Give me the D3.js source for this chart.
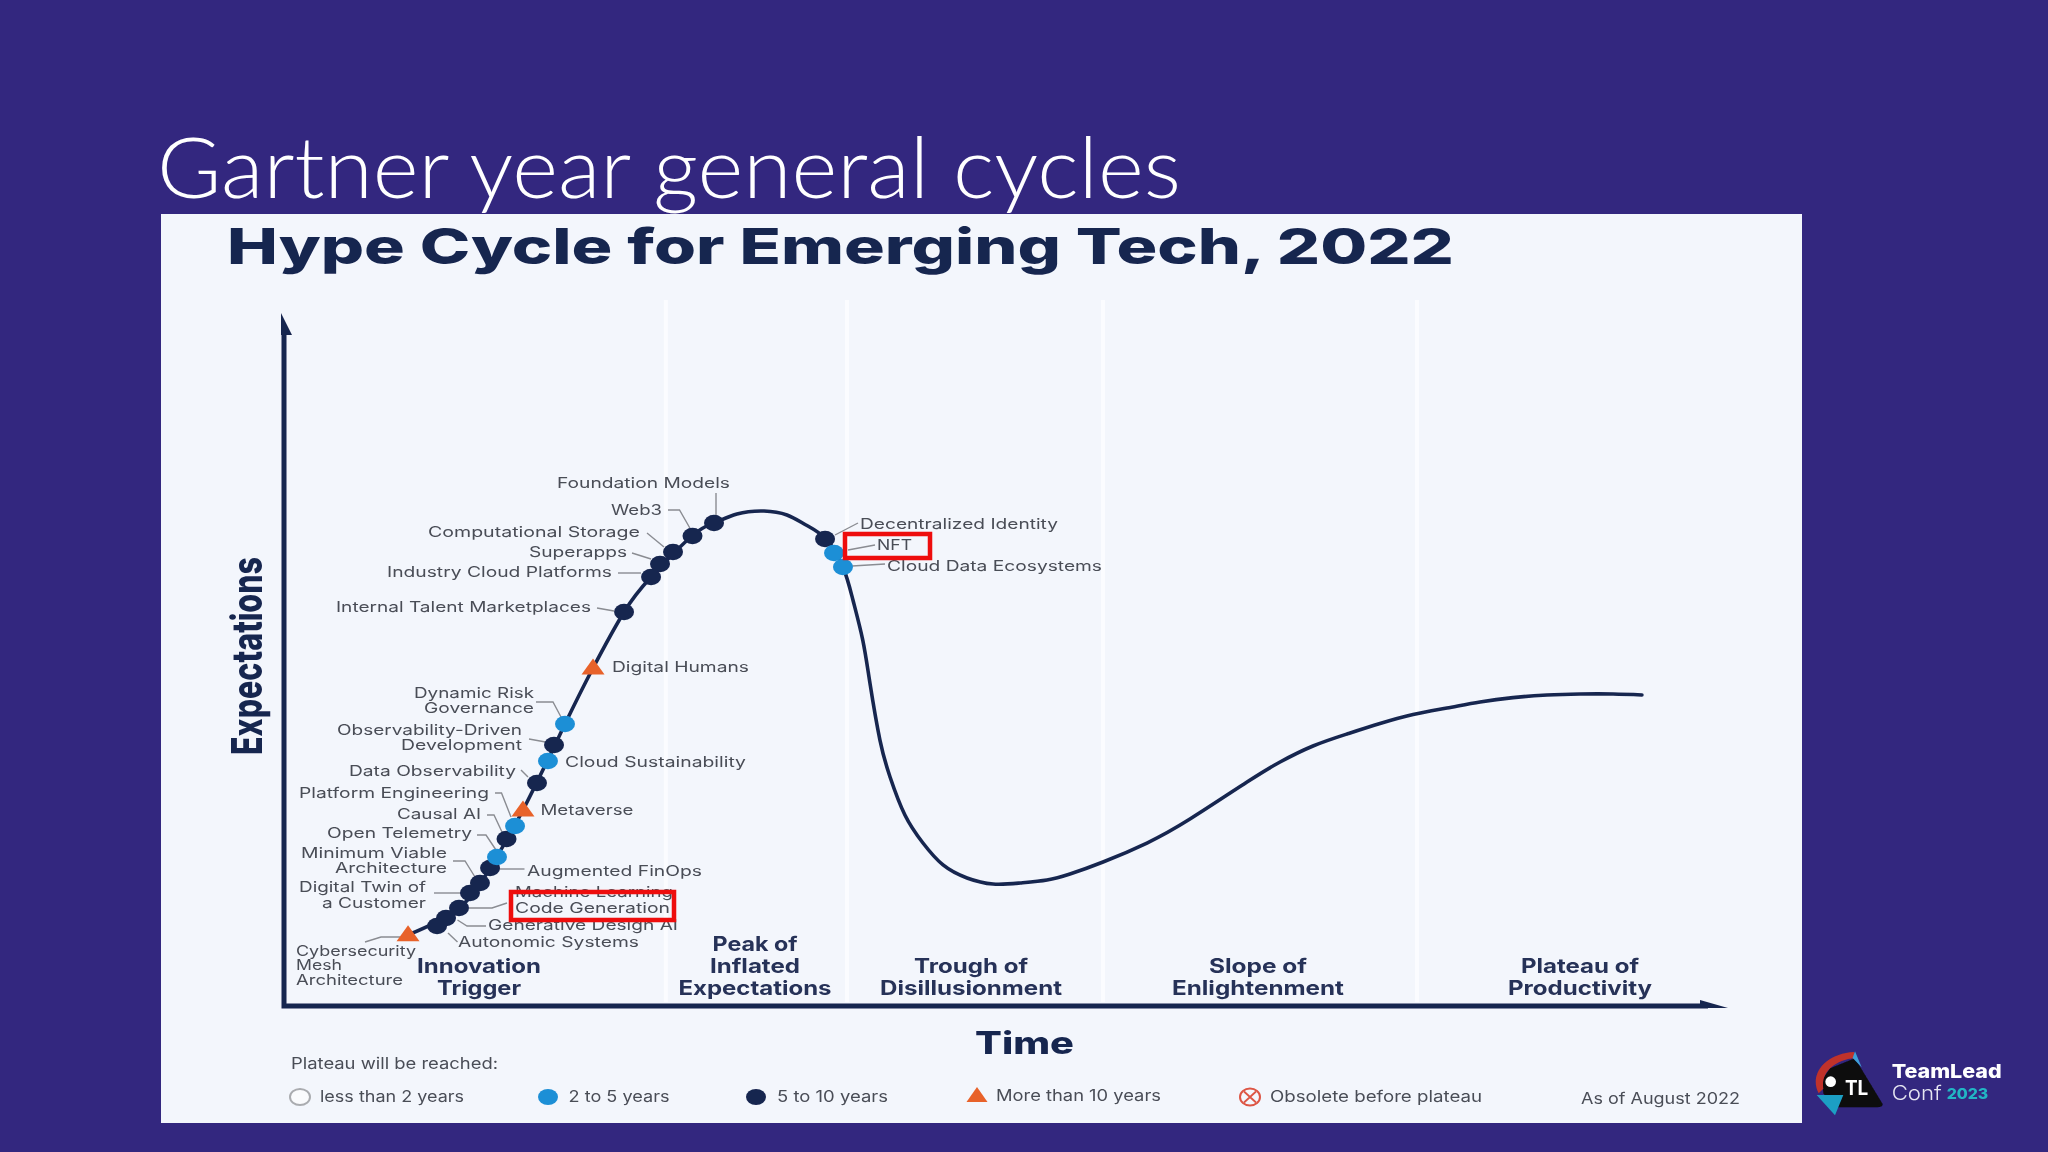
<!DOCTYPE html>
<html><head><meta charset="utf-8">
<script src="https://cdn.jsdelivr.net/npm/d3@7/dist/d3.min.js"></script>
<style>html,body{margin:0;padding:0;background:#33277f;overflow:hidden}svg{display:block}</style>
</head><body><div id="chart"></div>
<script>
// ---------- data (time and expectations on a 0-100 scale) ----------
const slideTitle = "Gartner year general cycles";
const chartTitle = "Hype Cycle for Emerging Tech, 2022";
const curveTime = [8.59,12.12,14.27,16.55,19.46,21.4,23.55,25.42,28.25,29.78,31.37,33.24,34.83,36.15,37.53,38.71,39.4,40.08,40.58,41.27,41.97,43.0,44.25,45.64,47.3,49.1,50.97,52.84,54.43,56.72,59.76,62.74,66.69,68.98,71.26,73.61,75.9,78.19,80.54,82.83,85.11,87.47,89.75,92.04,94.04];
const curveExpect = [10.25,14.14,19.91,28.28,40.69,48.77,56.85,61.9,67.82,69.7,71.0,71.43,70.85,69.41,67.39,63.35,58.59,52.81,46.57,38.38,33.05,27.56,23.52,20.35,18.47,17.6,17.75,18.18,19.05,20.78,23.52,26.98,32.32,35.21,37.52,39.25,40.76,42.06,43.0,43.87,44.5,44.88,45.02,45.02,44.88];
const techNames = ["Cybersecurity Mesh Architecture","Autonomic Systems","Generative Design AI","Machine Learning Code Generation","Digital Twin of a Customer","Minimum Viable Architecture","Augmented FinOps","Open Telemetry","Causal AI","Platform Engineering","Metaverse","Data Observability","Cloud Sustainability","Observability-Driven Development","Dynamic Risk Governance","Digital Humans","Internal Talent Marketplaces","Industry Cloud Platforms","Superapps","Computational Storage","Web3","Foundation Models","Decentralized Identity","NFT","Cloud Data Ecosystems"];
const techTime = [8.59,10.6,11.22,12.12,12.88,13.57,14.27,14.75,15.41,16.0,16.55,17.52,18.28,18.7,19.46,21.4,23.55,25.42,26.04,26.94,28.29,29.78,37.47,38.09,38.71];
const techExpect = [10.25,11.54,12.7,14.14,16.31,17.75,19.91,21.5,24.1,25.97,28.28,32.18,35.35,37.66,40.69,48.77,56.85,61.9,63.78,65.51,67.82,69.7,67.39,65.37,63.35];
const techHorizon = ["gt10","5to10","5to10","5to10","5to10","5to10","5to10","2to5","5to10","2to5","gt10","5to10","2to5","5to10","2to5","gt10","5to10","5to10","5to10","5to10","5to10","5to10","5to10","2to5","2to5"];
const dividerTimes = [26.45,38.99,56.72,78.46];
const phaseNames = [["Innovation","Trigger"],["Peak of","Inflated","Expectations"],["Trough of","Disillusionment"],["Slope of","Enlightenment"],["Plateau of","Productivity"]];
const legendHeading = "Plateau will be reached:";
const legendNames = ["less than 2 years","2 to 5 years","5 to 10 years","More than 10 years","Obsolete before plateau"];
const legendKeys = ["lt2","2to5","5to10","gt10","obsolete"];
const asOfNote = "As of August 2022";

// ---------- layout ----------
const W=2048,H=1152;
const x=d3.scaleLinear().domain([0,100]).range([284,1728]);
const y=d3.scaleLinear().domain([0,100]).range([1006,313]);
const NAVY="#182650",BLUE="#1d8fd6",ORANGE="#e8622a",GREY="#4a4d57",LEAD="#8a8c92",RED="#ee1111";

const svg=d3.select("#chart").append("svg").attr("width",W).attr("height",H).attr("viewBox",[0,0,W,H]);
const defs=svg.append("defs");
defs.append("filter").attr("id","soft").attr("x","-5%").attr("y","-5%").attr("width","110%").attr("height","110%")
  .append("feGaussianBlur").attr("stdDeviation",0.75);
defs.append("filter").attr("id","soft2").append("feGaussianBlur").attr("stdDeviation",0.5);

svg.append("rect").attr("width",W).attr("height",H).attr("fill","#33277f");
svg.append("text").text(slideTitle).attr("x",157).attr("y",198)
  .attr("font-family","Lato").attr("font-weight",300).attr("font-size",84).attr("fill","#fff")
  .attr("textLength",1024).attr("lengthAdjust","spacingAndGlyphs");
svg.append("rect").attr("x",161).attr("y",214).attr("width",1641).attr("height",909).attr("fill","#f3f6fc");

const g=svg.append("g").attr("filter","url(#soft)");
function txt(parent,s,px,py,len,o={}){
  return parent.append("text").text(s).attr("x",px).attr("y",py).attr("dy","0.36em")
    .attr("font-family",o.family||"Inter").attr("font-weight",o.weight||400).attr("font-size",o.size||14.5)
    .attr("fill",o.fill||GREY).attr("text-anchor",o.anchor||"start")
    .attr("textLength",len).attr("lengthAdjust","spacingAndGlyphs");
}

g.append("text").text(chartTitle).attr("x",227).attr("y",264)
  .attr("font-family","Inter").attr("font-weight",800).attr("font-size",49).attr("fill",NAVY)
  .attr("textLength",1227).attr("lengthAdjust","spacingAndGlyphs");

// phase dividers
g.selectAll("line.div").data(dividerTimes).join("line").attr("class","div")
  .attr("x1",d=>x(d)).attr("x2",d=>x(d)).attr("y1",300).attr("y2",1002)
  .attr("stroke","#fbfcff").attr("stroke-width",4);

// axes
const axisLine=d3.line();
g.append("path").attr("d",axisLine([[x(0),y(100)+20],[x(0),y(0)],[x(100)-20,y(0)]]))
  .attr("fill","none").attr("stroke",NAVY).attr("stroke-width",5);
g.append("path").attr("d",axisLine([[x(0)-3,y(100)],[x(0)+8,y(100)+22],[x(0)-3,y(100)+22]])+"Z").attr("fill",NAVY);
g.append("path").attr("d",axisLine([[x(100),y(0)+2],[x(100)-28,y(0)-6],[x(100)-28,y(0)+2]])+"Z").attr("fill",NAVY);

// curve
const curve=d3.line().x(d=>x(d[0])).y(d=>y(d[1])).curve(d3.curveNatural);
g.append("path").datum(curveTime.map((t,i)=>[t,curveExpect[i]])).attr("d",curve)
  .attr("fill","none").attr("stroke",NAVY).attr("stroke-width",3.6).attr("stroke-linecap","round");

// leader lines for the labels
const leaders=[
 [[365,942],[381,937],[400,937]],[[448,933],[457.5,942]],[[457.5,920],[467,926],[486,926]],
 [[469,908],[492,908],[507,903]],[[434,893],[461,893]],[[453,861],[465,861],[475,877]],
 [[496,869],[524.5,869]],[[477,835],[486,835],[496,850]],[[487,815],[494,815],[502,832]],
 [[495,793],[501.5,793],[511,817]],[[521,770],[528,777]],[[529,739],[545.5,742]],
 [[536,702],[553,702],[561,717]],[[597,608],[614,611]],[[618,573],[641,573]],[[632,553],[651,559]],
 [[647,533],[664,547]],[[668,510],[679.5,510],[691,530]],[[716,493],[716,516]],
 [[835,535],[858,523]],[[848,550],[875,545]],[[852,566],[885,564]]];
g.selectAll("path.lead").data(leaders).join("path").attr("class","lead").attr("d",d=>axisLine(d))
  .attr("fill","none").attr("stroke",LEAD).attr("stroke-width",1.4);

// technology markers
const colour={"2to5":BLUE,"5to10":NAVY,"gt10":ORANGE};
const triangle=(cx,cy,w,h)=>d3.line()([[cx,cy-h*0.6],[cx+w/2,cy+h*0.4],[cx-w/2,cy+h*0.4]])+"Z";
const tech=techNames.map((n,i)=>({n,t:techTime[i],e:techExpect[i],h:techHorizon[i]}));
g.selectAll("ellipse.node").data(tech.filter(d=>d.h!=="gt10")).join("ellipse").attr("class","node")
  .attr("cx",d=>x(d.t)).attr("cy",d=>y(d.e)).attr("rx",10).attr("ry",8.2).attr("fill",d=>colour[d.h]);
g.selectAll("path.tri").data(tech.filter(d=>d.h==="gt10")).join("path").attr("class","tri")
  .attr("d",d=>triangle(x(d.t),y(d.e),23,16)).attr("fill",ORANGE);

// technology labels: [text, left x, centre y, width]
const labels=[
 ["Foundation Models",557,483,173],["Web3",611,510,51],["Computational Storage",428,532,212],
 ["Superapps",529,552,98],["Industry Cloud Platforms",387,572,225],["Internal Talent Marketplaces",336,607,255],
 ["Digital Humans",612,667,137],["Dynamic Risk",414,693,120],["Governance",424,708,110],
 ["Observability-Driven",337,730,185],["Development",401,745,121],["Cloud Sustainability",565,762,181],
 ["Data Observability",349,771,167],["Platform Engineering",299,793,190],["Metaverse",540.5,810,93],
 ["Causal AI",397,814,84],["Open Telemetry",327,833,145],["Minimum Viable",301,853,146],["Architecture",335,868,112],
 ["Augmented FinOps",527,871,175],["Digital Twin of",299,887,127],["a Customer",322,903,104],
 ["Machine Learning",515,892,158],["Code Generation",515,908,155],["Generative Design AI",488,925,190],
 ["Autonomic Systems",458,942,181],["Cybersecurity",296,950.5,120],["Mesh",296,965,46],["Architecture",296,979.5,107],
 ["Decentralized Identity",860,524,198],["NFT",877,545,35],["Cloud Data Ecosystems",887,566,215]];
labels.forEach(l=>txt(g,l[0],l[1],l[2],l[3]));

// highlight boxes
[[511,892,163,28],[845,534,85,24]].forEach(b=>g.append("rect").attr("x",b[0]).attr("y",b[1]).attr("width",b[2]).attr("height",b[3])
  .attr("fill","none").attr("stroke",RED).attr("stroke-width",4.5));

// phase names: centre x, first-line y and line widths
const phaseLayout=[[479,966,[124,84]],[755,944,[85,90,153]],[971,966,[114,182]],[1258,966,[98,172]],[1580,966,[118,144]]];
phaseNames.forEach((lines,i)=>lines.forEach((s,j)=>
  txt(g,s,phaseLayout[i][0],phaseLayout[i][1]+j*22,phaseLayout[i][2][j],{weight:700,size:20,fill:"#283258",anchor:"middle"})));

// axis titles
g.append("text").text("Time").attr("x",975).attr("y",1054).attr("font-family","Inter").attr("font-weight",800)
  .attr("font-size",31).attr("fill",NAVY).attr("textLength",99).attr("lengthAdjust","spacingAndGlyphs");
g.append("text").text("Expectations").attr("transform","translate(262,755) rotate(-90)")
  .attr("font-family","Inter").attr("font-weight",800).attr("font-size",42).attr("fill",NAVY)
  .attr("textLength",198).attr("lengthAdjust","spacingAndGlyphs");

// legend
txt(g,legendHeading,291,1063,207,{size:15.5});
const legendLayout=[[300,320,144],[548,568.5,101],[756,777,111],[977,996,165],[1250,1270,212]];
legendKeys.forEach((k,i)=>{
  const [mx,tx,tw]=legendLayout[i], my=1097;
  if(k==="lt2") g.append("ellipse").attr("cx",mx).attr("cy",my).attr("rx",10).attr("ry",8).attr("fill","#fafbfd").attr("stroke","#aaacb0").attr("stroke-width",2);
  if(k==="2to5"||k==="5to10") g.append("ellipse").attr("cx",mx).attr("cy",my).attr("rx",10).attr("ry",8).attr("fill",colour[k]);
  if(k==="gt10") g.append("path").attr("d",triangle(mx,my-1,21,15)).attr("fill",ORANGE);
  if(k==="obsolete"){
    g.append("ellipse").attr("cx",mx).attr("cy",my).attr("rx",10).attr("ry",8.5).attr("fill","none").attr("stroke","#dd5544").attr("stroke-width",2);
    g.append("path").attr("d","M"+(mx-6)+","+(my-5.5)+"L"+(mx+6)+","+(my+5.5)+"M"+(mx+6)+","+(my-5.5)+"L"+(mx-6)+","+(my+5.5)).attr("stroke","#dd5544").attr("stroke-width",1.8);
  }
  txt(g,legendNames[i],tx,i===3?1095.5:1096.5,tw,{size:15.5});
});
txt(g,asOfNote,1581,1098,159,{size:15.5});

// conference logo
const logo=svg.append("g").attr("filter","url(#soft2)").attr("transform","translate(1790,1030) scale(0.3333)");
logo.append("path").attr("d","M96,150 L120,115 L195,85 L278,222 Q278,232 262,232 L130,232 L100,190 Z").attr("fill","#0c0c0e");
logo.append("path").attr("d","M86,190 C55,130 110,70 192,66 L196,84 C130,90 92,130 100,176 Z").attr("fill","#c0302c");
logo.append("path").attr("d","M195,64 L215,112 L188,84 Z").attr("fill","#3d9fd8");
logo.append("path").attr("d","M80,195 L160,195 L135,256 Z").attr("fill","#1d9fc4");
logo.append("circle").attr("cx",122).attr("cy",155).attr("r",16).attr("fill","#fff");
logo.append("text").text("TL").attr("x",165).attr("y",195).attr("font-family","Inter").attr("font-weight",700).attr("font-size",60).attr("fill","#fff").attr("textLength",70).attr("lengthAdjust","spacingAndGlyphs");
logo.append("text").text("TeamLead").attr("x",305).attr("y",145).attr("font-family","Inter").attr("font-weight",800).attr("font-size",58).attr("fill","#fff").attr("textLength",330).attr("lengthAdjust","spacingAndGlyphs");
logo.append("text").text("Conf").attr("x",305).attr("y",210).attr("font-family","Inter").attr("font-weight",300).attr("font-size",60).attr("fill","#e6e6f2").attr("textLength",150).attr("lengthAdjust","spacingAndGlyphs");
logo.append("text").text("2023").attr("x",470).attr("y",208).attr("font-family","Inter").attr("font-weight",800).attr("font-size",44).attr("fill","#22b5c4").attr("textLength",125).attr("lengthAdjust","spacingAndGlyphs");
</script></body></html>
